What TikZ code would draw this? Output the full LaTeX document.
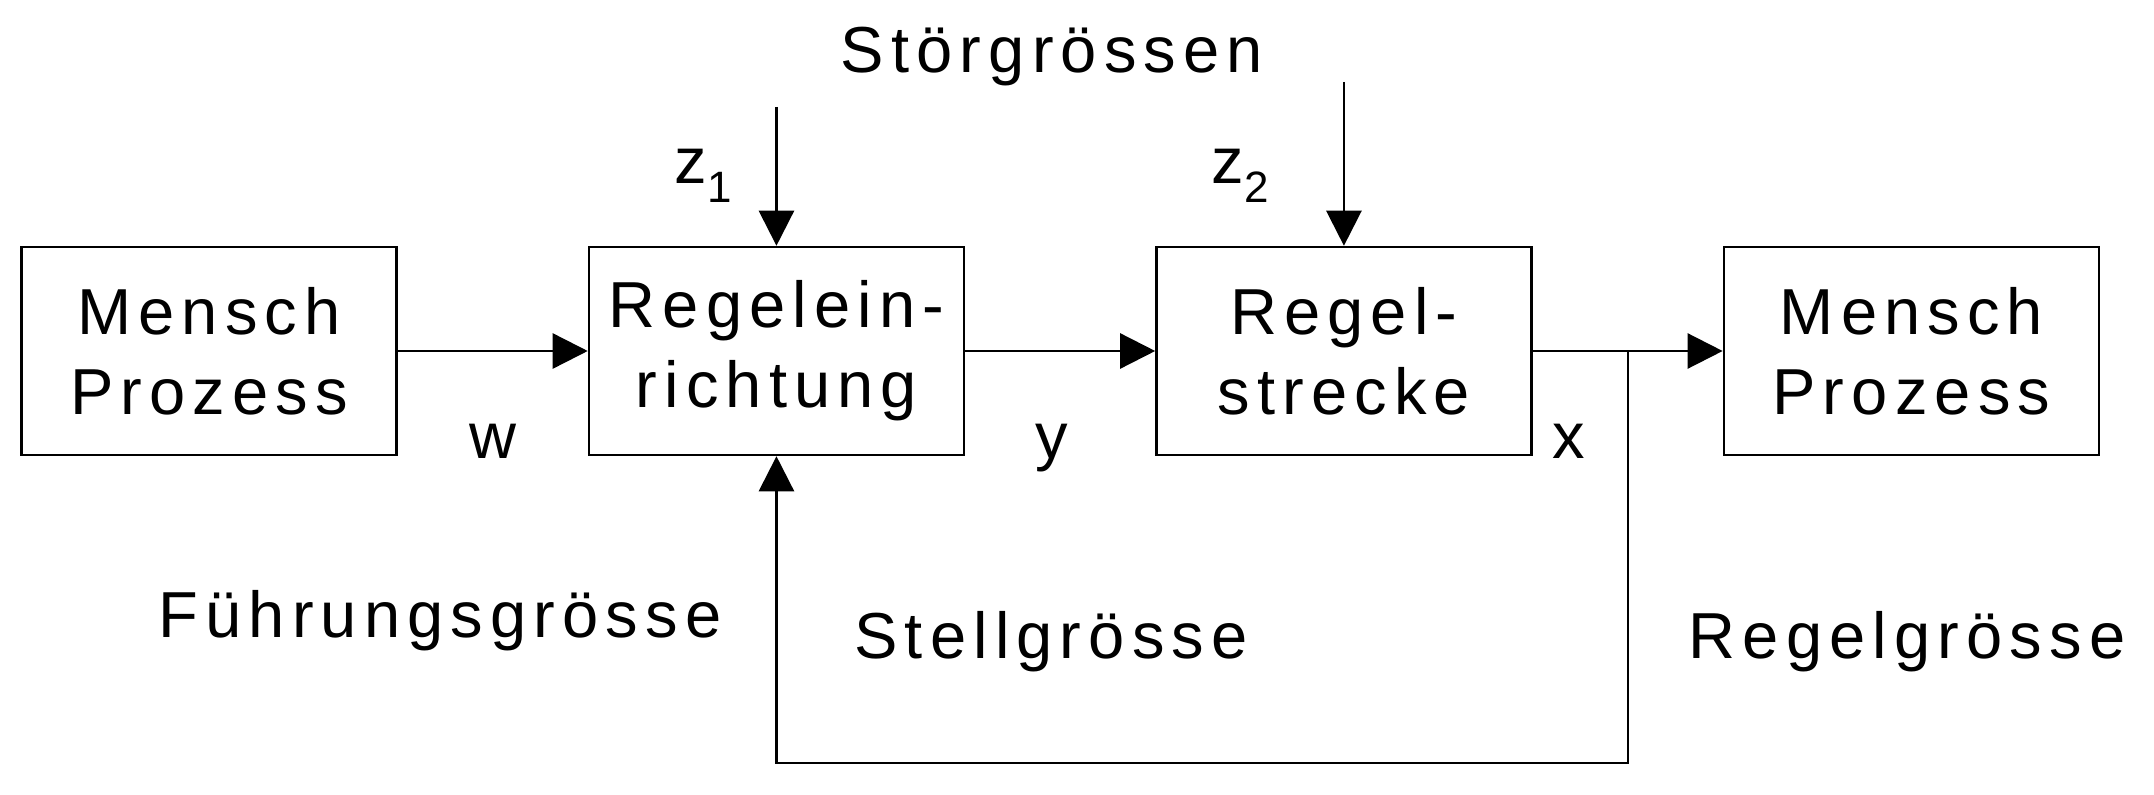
\documentclass[tikz,border=0pt]{standalone}
\usepackage{fontspec}
\setmainfont[LetterSpace=11]{Liberation Sans}
\usetikzlibrary{arrows.meta,positioning}

\begin{document}
\begin{tikzpicture}[
  font=\fontsize{18.5}{22.8}\selectfont,
  block/.style={draw,line width=0.7pt,minimum width=3.75cm,minimum height=2.08cm,align=center,inner sep=0pt},
  sig/.style={line width=0.7pt,-{Triangle[length=10pt,width=10pt]}},
  lbl/.style={anchor=base,inner sep=0pt},
  node distance=1.9cm]
\useasboundingbox (0,0) rectangle (21.54,-7.94);
% Bloecke
\node[block] (mensch1) at (2.09,-3.51) {Mensch\\Prozess};
\node[block,right=of mensch1] (regler) {Regelein-\\richtung};
\node[block,right=of regler] (strecke) {Regel-\\strecke};
\node[block,right=of strecke] (mensch2) {Mensch\\Prozess};
% Signale
\draw[sig] (mensch1) -- (regler);
\draw[sig] (regler) -- (strecke);
\draw[sig] (strecke) -- (mensch2);
\coordinate (z1top) at ([yshift=1.39cm]regler.north);
\coordinate (z2top) at ([yshift=1.64cm]strecke.north);
\draw[sig] (z1top) -- (regler.north);
\draw[sig] (z2top) -- (strecke.north);
% Rueckfuehrung
\coordinate (abzweig) at ([xshift=0.955cm]strecke.east);
\coordinate (unten) at ([yshift=-4.12cm]abzweig);
\draw[sig] (abzweig) -- (unten) -| (regler.south);
% Beschriftung
\node[lbl] (stoer) at (10.52,-0.73) {Störgrössen};
\node[lbl] (z1) at (7.03,-1.83) {z\raisebox{-5.5pt}{\fontsize{12.5}{12.5}\selectfont 1}};
\node[lbl] (z2) at (12.40,-1.83) {z\raisebox{-5.5pt}{\fontsize{12.5}{12.5}\selectfont 2}};
\node[lbl] (w) at (4.93,-4.58) {w};
\node[lbl] (y) at (10.52,-4.58) {y};
\node[lbl] (x) at (15.69,-4.58) {x};
\node[lbl] (fuehrung) at (4.40,-6.37) {Führungsgrösse};
\node[lbl] (stell) at (10.51,-6.58) {Stellgrösse};
\node[lbl] (regelgr) at (19.07,-6.58) {Regelgrösse};
\end{tikzpicture}
\end{document}
